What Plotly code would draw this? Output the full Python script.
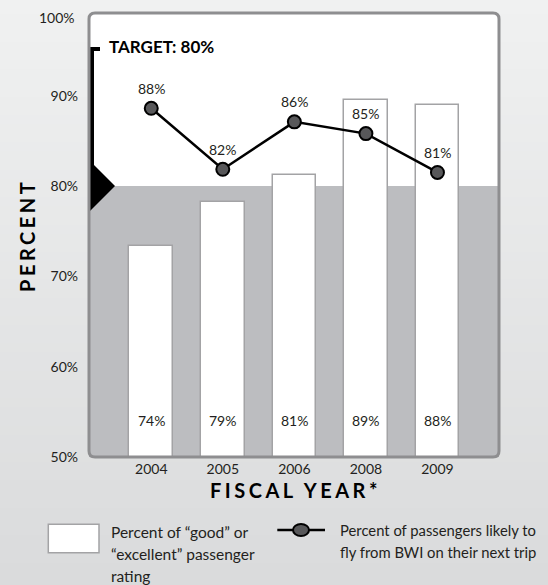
import base64
import struct
import zlib

import plotly.graph_objects as go

# ---------------- data ----------------
YEARS = ["2004", "2005", "2006", "2008", "2009"]
RATING = [73.4, 78.2, 81.2, 89.5, 89.0]          # bar heights as drawn
RATING_LABELS = ["74%", "79%", "81%", "89%", "88%"]
LIKELY = [88.6, 81.85, 87.1, 85.8, 81.5]         # line points as drawn
LIKELY_LABELS = ["88%", "82%", "86%", "85%", "81%"]
TARGET = 80
Y_TICKS = [50, 60, 70, 80, 90]
Y_TICK_TEXT = ["50%", "60%", "70%", "80%", "90%"]
Y_TOP_LABEL = "100%"
LEGEND_BAR_LINES = ["Percent of \u201cgood\u201d or", "\u201cexcellent\u201d passenger", "rating"]
LEGEND_LINE_LINES = ["Percent of passengers likely to", "fly from BWI on their next trip"]

X_POS = list(range(len(YEARS)))

# ---------------- style ----------------
FONT = "Lato"
TXT = "#231f20"
BAND = "#bcbdc0"
FRAME = "#8e8e90"
BAR_EDGE = "#a3a3a5"
MARK = "#58585a"

W, H = 548, 585
ML, MR, MT, MB = 89, 49, 13, 128
PW, PH = W - ML - MR, H - MT - MB


def gradient_png(top, bottom, h=64):
    rows = b""
    for i in range(h):
        t = i / (h - 1)
        rows += b"\x00" + bytes(round(top[k] + (bottom[k] - top[k]) * t) for k in range(3))

    def chunk(tag, data):
        return (struct.pack(">I", len(data)) + tag + data
                + struct.pack(">I", zlib.crc32(tag + data) & 0xFFFFFFFF))

    ihdr = struct.pack(">IIBBBBB", 1, h, 8, 2, 0, 0, 0)
    png = (b"\x89PNG\r\n\x1a\n" + chunk(b"IHDR", ihdr)
           + chunk(b"IDAT", zlib.compress(rows)) + chunk(b"IEND", b""))
    return "data:image/png;base64," + base64.b64encode(png).decode()


fig = go.Figure()

fig.add_trace(go.Bar(
    x=X_POS, y=RATING, width=0.61,
    marker=dict(color="white", line=dict(color=BAR_EDGE, width=1.5)),
    hoverinfo="skip", showlegend=False,
))
fig.add_trace(go.Scatter(
    x=X_POS, y=LIKELY, mode="lines+markers",
    line=dict(color="black", width=2.5),
    marker=dict(size=13, color=MARK, line=dict(color="black", width=2)),
    hoverinfo="skip", showlegend=False,
))

shapes = []
# white plot area (above paper gradient image)
shapes.append(dict(type="rect", xref="paper", yref="paper", x0=0, x1=1, y0=0, y1=1,
                   fillcolor="white", line=dict(width=0), layer="below"))
# gray band below the target
shapes.append(dict(type="rect", xref="paper", yref="y", x0=0, x1=1, y0=0, y1=TARGET,
                   fillcolor=BAND, line=dict(width=0), layer="below"))
# target flag, anchored at the target value
shapes.append(dict(
    type="path", xref="paper", yref="y", xsizemode="pixel", ysizemode="pixel",
    xanchor=0, yanchor=TARGET,
    path="M -1,139 L 11,139 L 11,135 L 5,135 L 5,21 L 26,0 L -1,-27 Z",
    fillcolor="black", line=dict(width=0), layer="above"))
# rounded frame
r = 6
frame = (f"M 0,{r} L 0,{PH - r} Q 0,{PH} {r},{PH} L {PW - r},{PH} Q {PW},{PH} {PW},{PH - r} "
         f"L {PW},{r} Q {PW},0 {PW - r},0 L {r},0 Q 0,0 0,{r} Z")
shapes.append(dict(type="path", xref="paper", yref="paper", xsizemode="pixel", ysizemode="pixel",
                   xanchor=0, yanchor=0, path=frame, line=dict(color=FRAME, width=3),
                   fillcolor="rgba(0,0,0,0)", layer="above"))
# legend: bar swatch
shapes.append(dict(type="rect", xref="paper", yref="paper", xsizemode="pixel", ysizemode="pixel",
                   xanchor=0, yanchor=0, x0=-40.7, x1=10, y0=-67.3, y1=-95.7,
                   fillcolor="white", line=dict(color=BAR_EDGE, width=1.5), layer="above"))
# legend: line + marker
shapes.append(dict(type="line", xref="paper", yref="paper", xsizemode="pixel", ysizemode="pixel",
                   xanchor=0, yanchor=0, x0=188.3, x1=236, y0=-73, y1=-73,
                   line=dict(color="black", width=2.5), layer="above"))
shapes.append(dict(type="circle", xref="paper", yref="paper", xsizemode="pixel", ysizemode="pixel",
                   xanchor=0, yanchor=0, x0=204, x1=220, y0=-67, y1=-79,
                   fillcolor=MARK, line=dict(color="black", width=2), layer="above"))

ann = []
for xp, lab in zip(X_POS, RATING_LABELS):
    ann.append(dict(x=xp, y=54, xref="x", yref="y", text=lab, showarrow=False,
                    font=dict(family=FONT, size=14, color=TXT)))
for xp, val, lab in zip(X_POS, LIKELY, LIKELY_LABELS):
    ann.append(dict(x=xp, y=val, xref="x", yref="y", text=lab, showarrow=False, yshift=20,
                    font=dict(family=FONT, size=14, color=TXT)))
ann.append(dict(x=0, y=1, xref="paper", yref="paper", text=Y_TOP_LABEL, showarrow=False,
                xanchor="right", yanchor="middle", xshift=-12, yshift=-4.3,
                font=dict(family=FONT, size=14, color=TXT)))
ann.append(dict(x=0, y=TARGET, xref="paper", yref="y", text="<b>TARGET: 80%</b>", showarrow=False,
                xanchor="left", yanchor="middle", xshift=17.5, yshift=139.3,
                font=dict(family=FONT, size=17, color="black")))
ann.append(dict(x=0, y=0.5, xref="paper", yref="paper", text="<b>PERCENT</b>", showarrow=False,
                xanchor="center", yanchor="middle", xshift=-62.3, textangle=-90,
                font=dict(family=FONT, size=20, color="black")))
ann.append(dict(x=(295.5 - ML) / PW, y=0, xref="paper", yref="paper", text="<b>FISCAL YEAR*</b>",
                showarrow=False, xanchor="center", yanchor="middle", yshift=-33,
                font=dict(family=FONT, size=20, color="black")))
for i, line in enumerate(LEGEND_BAR_LINES):
    ann.append(dict(x=0, y=0, xref="paper", yref="paper", text=line, showarrow=False,
                    xanchor="left", yanchor="middle", xshift=19.7, yshift=-74.7 - 22 * i,
                    font=dict(family=FONT, size=15.5, color=TXT)))
for i, line in enumerate(LEGEND_LINE_LINES):
    ann.append(dict(x=0, y=0, xref="paper", yref="paper", text=line, showarrow=False,
                    xanchor="left", yanchor="middle", xshift=248.7, yshift=-73 - 21.7 * i,
                    font=dict(family=FONT, size=14.8, color=TXT)))

fig.update_layout(
    width=W, height=H,
    margin=dict(l=ML, r=MR, t=MT, b=MB, pad=0),
    paper_bgcolor="#e6e7e8", plot_bgcolor="white",
    shapes=shapes, annotations=ann,
    images=[dict(source=gradient_png((240, 241, 241), (218, 219, 220)), xref="paper", yref="paper",
                 x=-ML / PW, y=1 + MT / PH, sizex=W / PW, sizey=H / PH, sizing="stretch",
                 xanchor="left", yanchor="top", layer="below")],
    showlegend=False, bargap=0,
    font=dict(family=FONT, size=14, color=TXT),
    xaxis=dict(range=[-0.87, 4.86], tickvals=X_POS, ticktext=YEARS, showgrid=False,
               zeroline=False, showline=False, ticks="", ticklabelstandoff=2,
               tickfont=dict(family=FONT, size=14, color=TXT), fixedrange=True),
    yaxis=dict(range=[50, 99.15], tickvals=Y_TICKS, ticktext=Y_TICK_TEXT, showgrid=False,
               zeroline=False, showline=False, ticks="", ticklabelstandoff=10,
               tickfont=dict(family=FONT, size=14, color=TXT), fixedrange=True),
)

post = """
document.documentElement.style.margin = '0';
document.body.style.margin = '0';
document.body.style.padding = '0';
document.body.style.overflow = 'hidden';
var gd = document.getElementById('{plot_id}');
function ls(){
  gd.querySelectorAll('text').forEach(function(t){
    var s = t.textContent;
    if (s === 'PERCENT' || s === 'FISCAL YEAR*') { t.style.letterSpacing = '3.5px'; }
  });
}
ls();
if (gd.on) { gd.on('plotly_afterplot', ls); }
"""

fig.write_html("out.html", post_script=post, config={"displayModeBar": False})
